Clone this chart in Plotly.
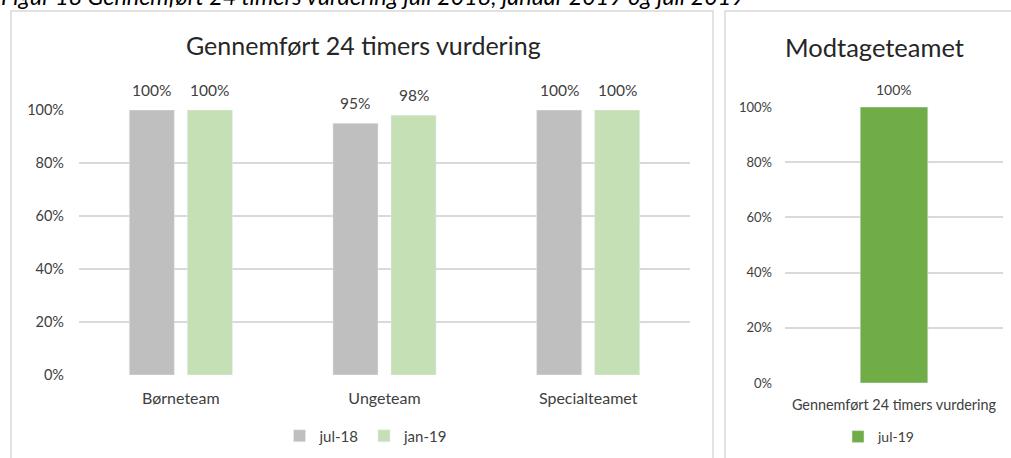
import plotly.graph_objects as go

W, H = 1011, 458

# Left chart data
teams = ["Børneteam", "Ungeteam", "Specialteamet"]
jul18 = [1.00, 0.95, 1.00]
jan19 = [1.00, 0.98, 1.00]

# Right chart data
mod_cat = ["Gennemført 24 timers vurdering"]
jul19 = [1.00]

y_ticks = [0, 0.2, 0.4, 0.6, 0.8, 1.0]
y_ticktext = ["0%", "20%", "40%", "60%", "80%", "100%"]

FONT = "Lato, 'Open Sans', sans-serif"
GRID = "#d9d9d9"
LABEL = "#404040"
BARGAP = 0.43
GROUPGAP = 0.224


def px_x(p):
    return p / W


def px_y(p):
    return 1 - p / H


def pct(v):
    return f"{round(v * 100)}%"


fig = go.Figure()

fig.add_bar(x=teams, y=jul18, name="jul-18", marker_color="#bfbfbf",
            xaxis="x", yaxis="y", legend="legend")
fig.add_bar(x=teams, y=jan19, name="jan-19", marker_color="#c5e0b4",
            xaxis="x", yaxis="y", legend="legend")
fig.add_bar(x=mod_cat, y=jul19, name="jul-19", marker_color="#70ad47",
            xaxis="x2", yaxis="y2", legend="legend2", width=0.31)

# Value labels above the bars (grouped bars sit at +/- a quarter of the group span)
half = (1 - BARGAP) / 4
for i, team in enumerate(teams):
    for off, series in [(-half, jul18), (half, jan19)]:
        fig.add_annotation(x=i + off, y=series[i], xref="x", yref="y",
                           text=pct(series[i]), showarrow=False,
                           yanchor="middle", yshift=20,
                           font=dict(size=15.5, color=LABEL))
for i, v in enumerate(jul19):
    fig.add_annotation(x=i, y=v, xref="x2", yref="y2", text=pct(v),
                       showarrow=False, yanchor="middle", yshift=17,
                       font=dict(size=14, color=LABEL))

axis_common = dict(showline=False, zeroline=False, ticks="",
                   fixedrange=True, automargin=False)

fig.update_layout(
    width=W, height=H,
    margin=dict(l=0, r=0, t=0, b=0, autoexpand=False),
    paper_bgcolor="white", plot_bgcolor="white",
    font=dict(family=FONT, color=LABEL),
    barmode="group", bargap=BARGAP, bargroupgap=GROUPGAP,
    xaxis=dict(domain=[px_x(79), px_x(690)], anchor="y", showgrid=False,
               tickfont=dict(size=16, color=LABEL), ticklabelstandoff=12,
               **axis_common),
    yaxis=dict(domain=[px_y(375), px_y(110)], anchor="x", range=[0, 1],
               tickvals=y_ticks, ticktext=y_ticktext, showgrid=True,
               gridcolor=GRID, gridwidth=1.5,
               tickfont=dict(size=14.5, color=LABEL), ticklabelstandoff=14,
               **axis_common),
    xaxis2=dict(domain=[px_x(785), px_x(1003)], anchor="y2", showgrid=False,
                tickfont=dict(size=14.4, color=LABEL), ticklabelstandoff=12,
                **axis_common),
    yaxis2=dict(domain=[px_y(383), px_y(107)], anchor="x2", range=[0, 1],
                tickvals=y_ticks, ticktext=y_ticktext, showgrid=True,
                gridcolor=GRID, gridwidth=1.5,
                tickfont=dict(size=13, color=LABEL), ticklabelstandoff=12,
                **axis_common),
    legend=dict(orientation="h", x=px_x(366), y=px_y(436),
                xanchor="center", yanchor="middle",
                font=dict(size=15, color=LABEL), itemwidth=30,
                bgcolor="rgba(0,0,0,0)", tracegroupgap=0),
    legend2=dict(orientation="h", x=px_x(879), y=px_y(437),
                 xanchor="center", yanchor="middle",
                 font=dict(size=14, color=LABEL), itemwidth=30,
                 bgcolor="rgba(0,0,0,0)"),
    showlegend=True,
)

# Chart frames
for x0, x1 in [(11, 713), (725, 1030)]:
    fig.add_shape(type="rect", xref="paper", yref="paper",
                  x0=px_x(x0), x1=px_x(x1), y0=px_y(480), y1=px_y(11),
                  line=dict(color=GRID, width=1.5), fillcolor="rgba(0,0,0,0)",
                  layer="below")

# Titles
fig.add_annotation(text="Gennemført 24 timers vurdering", xref="paper",
                   yref="paper", x=px_x(363), y=px_y(45), xanchor="center",
                   yanchor="middle", showarrow=False,
                   font=dict(size=25, color="#262626"))
fig.add_annotation(text="Modtageteamet", xref="paper", yref="paper",
                   x=px_x(874), y=px_y(47), xanchor="center",
                   yanchor="middle", showarrow=False,
                   font=dict(size=25.5, color="#262626"))

# Figure caption along the top edge
fig.add_annotation(
    text="Figur 18 Gennemført 24 timers vurdering juli 2018, januar 2019 og juli 2019",
    xref="paper", yref="paper", x=px_x(-1), y=px_y(-4), xanchor="left",
    yanchor="middle", showarrow=False,
    font=dict(size=23.3, color="#000000", style="italic"))

fig.write_html("out.html")
